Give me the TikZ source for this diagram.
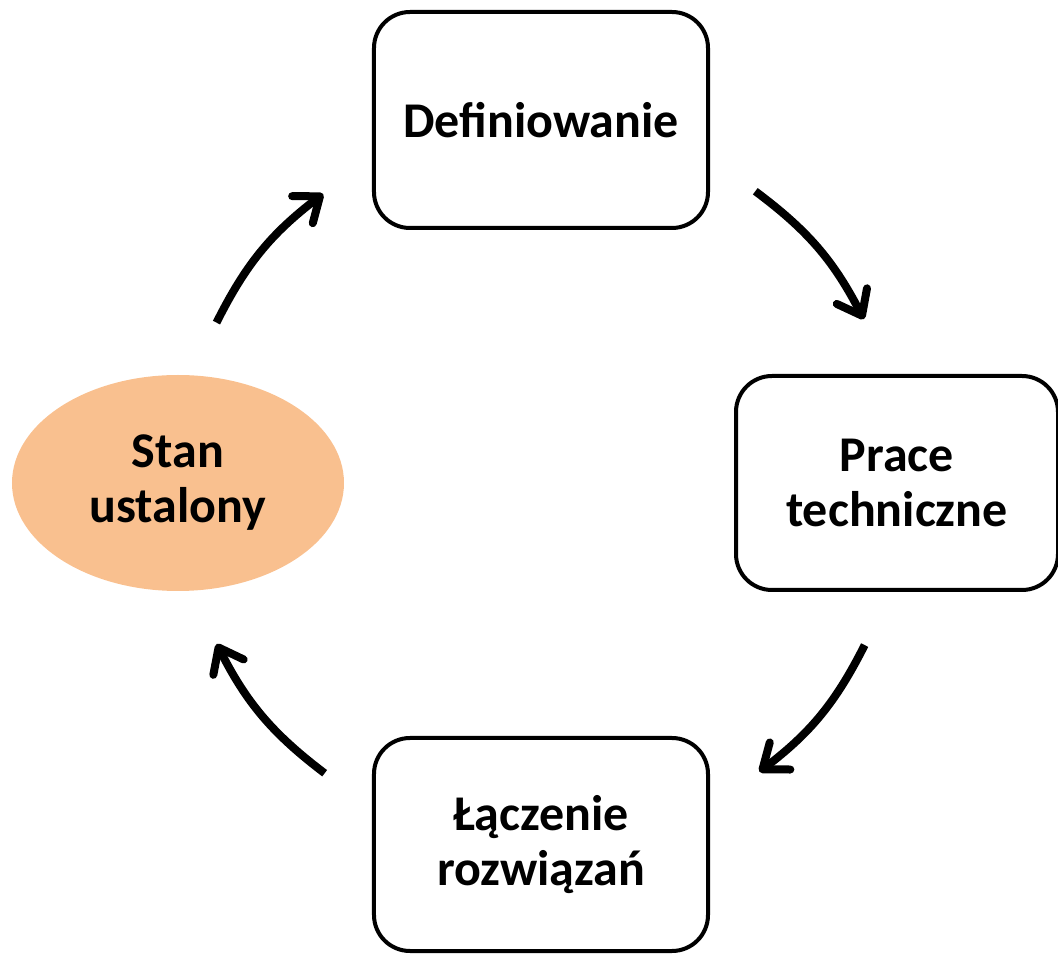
\documentclass[tikz,border=0pt]{standalone}
\usepackage{fontspec}
\setmainfont{Carlito}
\usetikzlibrary{arrows.meta, shapes.geometric}
\definecolor{color1}{RGB}{249, 192, 143}

\begin{document}
\begin{tikzpicture}[x = 1pt, y = 1pt,
  box/.style = {draw, line width = 4pt, rounded corners = 36pt, align = center,
    font = \fontsize{50}{55}\selectfont\bfseries},
  cyc/.style = {line width = 8pt, -{Straight Barb[length = 22pt, width = 34pt, round]}}]

\useasboundingbox (-541, -472) rectangle (517, 483);

\node [box, minimum width = 334pt, minimum height = 216pt] (def) at (0, 363) {Definiowanie};
\node [box, minimum width = 322pt, minimum height = 214pt] (prace) at (356, 0) {Prace\\techniczne};
\node [box, minimum width = 334pt, minimum height = 213pt] (lacz) at (0, -361.5) {Łączenie\\rozwiązań};
\node [ellipse, fill = color1, minimum width = 332pt, minimum height = 216pt, align = center,
  font = \fontsize{50}{55}\selectfont\bfseries] (stan) at (-363, 0) {Stan\\ustalony};

\coordinate (a1) at (53.7:362); \coordinate (b1) at (26.9:362);
\coordinate (a2) at (-26.6:362); \coordinate (b2) at (-52.9:362);
\coordinate (a3) at (233.3:362); \coordinate (b3) at (206.4:362);
\coordinate (a4) at (153.7:362); \coordinate (b4) at (127:362);

\draw [cyc] (a1) to[bend left = 13] (b1);
\draw [cyc] (a2) to[bend left = 13] (b2);
\draw [cyc] (a3) to[bend left = 13] (b3);
\draw [cyc] (a4) to[bend left = 13] (b4);
\end{tikzpicture}
\end{document}
